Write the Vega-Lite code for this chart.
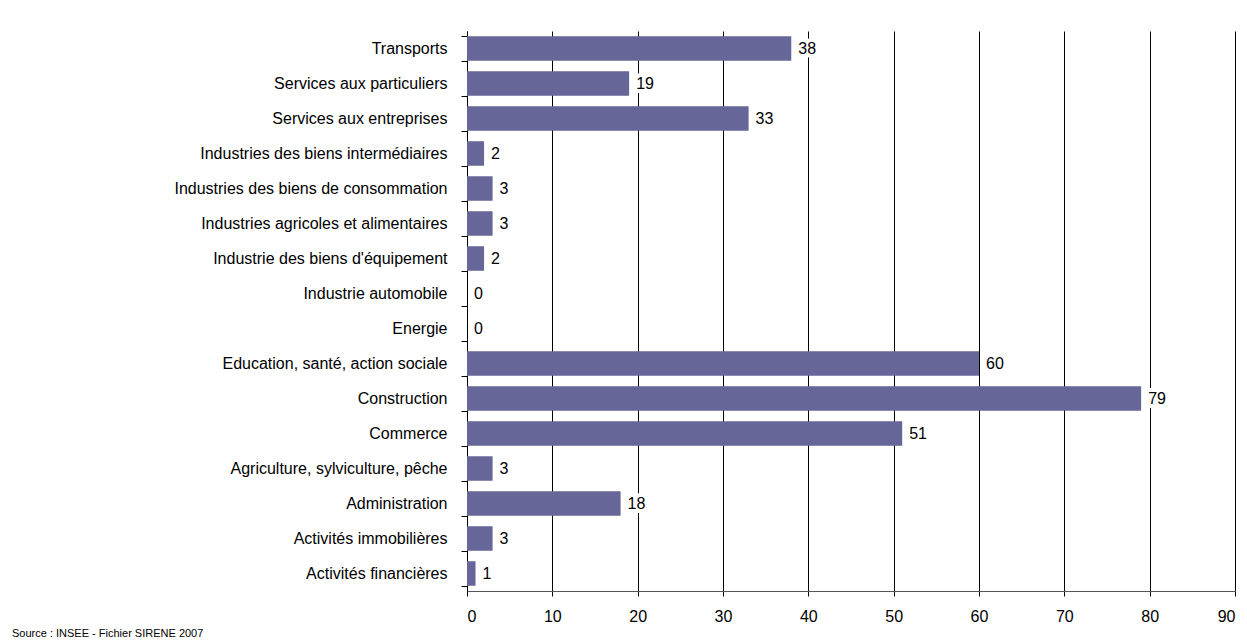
{
  "$schema": "https://vega.github.io/schema/vega-lite/v6.json",
  "autosize": {"type": "none"},
  "width": 768,
  "height": 560,
  "padding": {"left": 467, "top": 31, "right": 12, "bottom": 51},
  "background": "white",
  "title": {
    "text": "Source : INSEE - Fichier SIRENE 2007",
    "orient": "bottom",
    "anchor": "start",
    "frame": "group",
    "dx": -455,
    "offset": 4,
    "font": "Liberation Sans",
    "fontSize": 11,
    "fontWeight": "normal",
    "color": "black"
  },
  "config": {
    "view": {"stroke": null},
    "font": "Liberation Sans"
  },
  "data": {
    "values": [
      {"secteur": "Transports", "valeur": 38},
      {"secteur": "Services aux particuliers", "valeur": 19},
      {"secteur": "Services aux entreprises", "valeur": 33},
      {"secteur": "Industries des biens intermédiaires", "valeur": 2},
      {"secteur": "Industries des biens de consommation", "valeur": 3},
      {"secteur": "Industries agricoles et alimentaires", "valeur": 3},
      {"secteur": "Industrie des biens d'équipement", "valeur": 2},
      {"secteur": "Industrie automobile", "valeur": 0},
      {"secteur": "Energie", "valeur": 0},
      {"secteur": "Education, santé, action sociale", "valeur": 60},
      {"secteur": "Construction", "valeur": 79},
      {"secteur": "Commerce", "valeur": 51},
      {"secteur": "Agriculture, sylviculture, pêche", "valeur": 3},
      {"secteur": "Administration", "valeur": 18},
      {"secteur": "Activités immobilières", "valeur": 3},
      {"secteur": "Activités financières", "valeur": 1}
    ]
  },
  "encoding": {
    "y": {
      "field": "secteur",
      "type": "nominal",
      "sort": null,
      "scale": {"paddingInner": 0.3, "paddingOuter": 0.15},
      "axis": {
        "title": null,
        "tickBand": "extent",
        "tickSize": 6,
        "tickColor": "black",
        "domainColor": "black",
        "labelPadding": 14,
        "labelFontSize": 16,
        "labelColor": "black",
        "labelLimit": 500,
        "labelFont": "Liberation Sans"
      }
    },
    "x": {
      "field": "valeur",
      "type": "quantitative",
      "scale": {"domain": [0, 90], "nice": false},
      "axis": {
        "title": null,
        "values": [0, 10, 20, 30, 40, 50, 60, 70, 80, 90],
        "grid": true,
        "gridColor": "black",
        "gridOpacity": 1,
        "gridWidth": 1,
        "tickSize": 5,
        "tickColor": "black",
        "domainColor": "#555555",
        "labelPadding": 12,
        "labelFontSize": 16,
        "labelColor": "black",
        "labelFont": "Liberation Sans"
      }
    }
  },
  "layer": [
    {
      "mark": {"type": "bar", "color": "#666699"}
    },
    {
      "mark": {"type": "text", "align": "left", "baseline": "middle", "dx": 7, "fontSize": 16, "color": "white", "stroke": "white", "strokeWidth": 8, "font": "Liberation Sans"},
      "encoding": {"text": {"field": "valeur", "type": "quantitative"}}
    },
    {
      "mark": {"type": "text", "align": "left", "baseline": "middle", "dx": 7, "fontSize": 16, "color": "black", "font": "Liberation Sans"},
      "encoding": {"text": {"field": "valeur", "type": "quantitative"}}
    }
  ]
}
